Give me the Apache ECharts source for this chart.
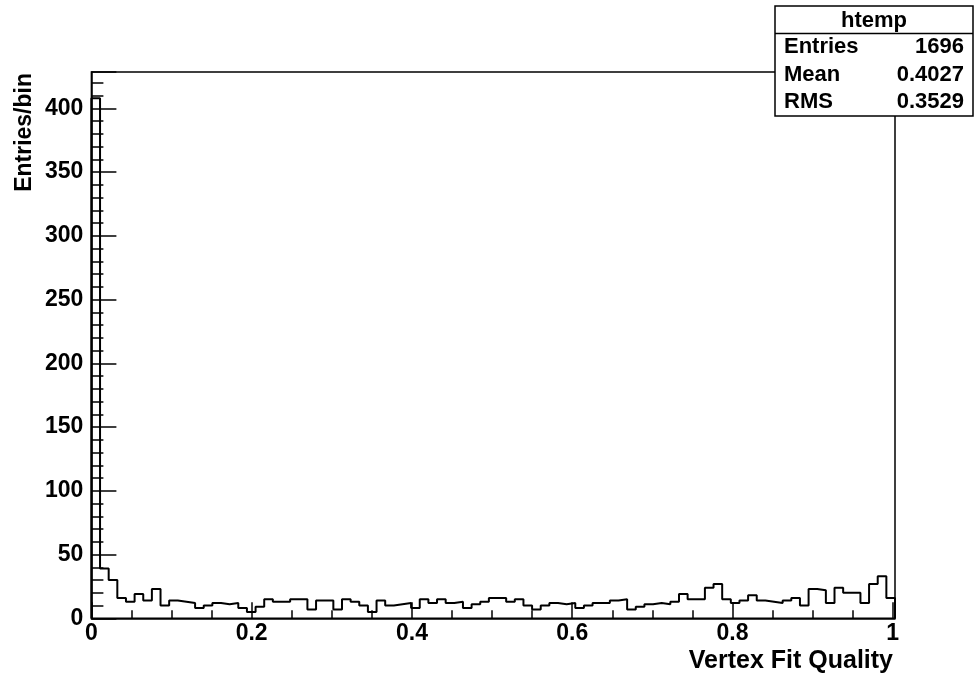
<!DOCTYPE html>
<html>
<head>
<meta charset="utf-8">
<title>htemp</title>
<script src="https://cdn.jsdelivr.net/npm/echarts@6/dist/echarts.min.js"></script>
<style>
html,body{margin:0;padding:0;background:#fff}
#chart{width:974px;height:678px}
</style>
</head>
<body>
<div id="chart"></div>
<script>
// htemp bin contents (93 equal bins from xMin to xMax)
const counts = [
  408, 39, 30, 16, 13, 19, 14, 23, 10, 14,
  13, 12, 8, 10, 12, 11, 12, 8, 5, 9,
  15, 13, 13, 15, 15, 7, 14, 14, 7, 15,
  13, 10, 5, 14, 10, 11, 12, 8, 15, 12,
  15, 12, 13, 8, 11, 13, 16, 16, 13, 15,
  10, 7, 10, 12, 11, 12, 8, 10, 12, 12,
  14, 15, 7, 9, 11, 12, 11, 13, 19, 15,
  15, 24, 27, 15, 12, 14, 18, 14, 13, 12,
  14, 16, 10, 23, 22, 12, 24, 20, 20, 12,
  27, 33, 16
];
const xMin = 0;
const xMax = 1.0028;
const yMax = 428.5;
const xTickLabels = [0, 0.2, 0.4, 0.6, 0.8, 1];
const yTickLabels = [0, 50, 100, 150, 200, 250, 300, 350, 400];

const histName = 'htemp';
const statNames = ['Entries', 'Mean', 'RMS'];
const statValues = ['1696', '0.4027', '0.3529'];
const xTitle = 'Vertex Fit Quality';
const yTitle = 'Entries/bin';

const FONT = '"Liberation Sans", Arial, Helvetica, sans-serif';

// outline of the histogram as (low edge, content) points, drawn with step: 'end'
const binWidth = (xMax - xMin) / counts.length;
const outline = [[xMin, 0]];
counts.forEach((c, i) => outline.push([xMin + i * binWidth, c]));
outline.push([xMax, counts[counts.length - 1]]);
outline.push([xMax, 0]);

const onTick = (list, v) => list.some(t => Math.abs(t - v) < 1e-9);

// stats box, top right
const box = { x: 775, y: 6, w: 198, h: 110 };
const rowH = box.h / 4;
const statFont = 'bold 22px ' + FONT;
const statsGraphics = [
  { type: 'rect', shape: { x: box.x, y: box.y, width: box.w, height: box.h },
    style: { fill: '#fff', stroke: '#000', lineWidth: 1.5 }, z: 10 },
  { type: 'line', shape: { x1: box.x, y1: box.y + rowH, x2: box.x + box.w, y2: box.y + rowH },
    style: { stroke: '#000', lineWidth: 1.5 }, z: 11 },
  { type: 'text', x: box.x + box.w / 2, y: box.y + rowH / 2 + 1, z: 11,
    style: { text: histName, font: statFont, fill: '#000',
      textAlign: 'center', textVerticalAlign: 'middle' } }
];
statNames.forEach((name, i) => {
  const cy = box.y + rowH * (i + 1.5);
  statsGraphics.push({ type: 'text', x: box.x + 9, y: cy, z: 11,
    style: { text: name, font: statFont, fill: '#000',
      textAlign: 'left', textVerticalAlign: 'middle' } });
  statsGraphics.push({ type: 'text', x: box.x + box.w - 9, y: cy, z: 11,
    style: { text: statValues[i], font: statFont, fill: '#000',
      textAlign: 'right', textVerticalAlign: 'middle' } });
});

const chart = echarts.init(document.getElementById('chart'), null, { renderer: 'canvas' });

chart.setOption({
  backgroundColor: '#fff',
  animation: false,
  grid: {
    left: 91.4, right: 79, top: 72, bottom: 59.7,
    show: true, borderColor: '#000', borderWidth: 1.5, backgroundColor: 'transparent'
  },
  xAxis: {
    type: 'value', min: xMin, max: xMax, interval: 0.2,
    axisLine: { show: true, onZero: false, lineStyle: { color: '#000', width: 1.5 } },
    axisTick: { show: true, inside: true, length: 16, lineStyle: { color: '#000', width: 1.5 } },
    minorTick: { show: true, splitNumber: 4, length: 8, lineStyle: { color: '#000', width: 1.5 } },
    splitLine: { show: false },
    axisLabel: {
      margin: 4, color: '#000', fontFamily: FONT, fontWeight: 'bold', fontSize: 23,
      showMaxLabel: false,
      formatter: v => onTick(xTickLabels, v) ? String(+v.toFixed(1)) : ''
    }
  },
  yAxis: {
    type: 'value', min: 0, max: yMax, interval: 50,
    axisLine: { show: true, lineStyle: { color: '#000', width: 1.5 } },
    axisTick: { show: true, inside: true, length: 25, lineStyle: { color: '#000', width: 1.5 } },
    minorTick: { show: true, splitNumber: 5, length: 12, lineStyle: { color: '#000', width: 1.5 } },
    splitLine: { show: false },
    axisLabel: {
      margin: 8, color: '#000', fontFamily: FONT, fontWeight: 'bold', fontSize: 23,
      showMaxLabel: false,
      formatter: v => onTick(yTickLabels, v) ? String(v) : ''
    }
  },
  series: [{
    name: histName,
    type: 'line',
    step: 'end',
    data: outline,
    symbol: 'none',
    clip: true,
    lineStyle: { color: '#000', width: 2 }
  }],
  graphic: [
    { type: 'text', x: 25, y: 73, rotation: Math.PI / 2,
      style: { text: yTitle, font: 'bold 23px ' + FONT, fill: '#000',
        textAlign: 'right', textVerticalAlign: 'middle' } },
    { type: 'text', x: 893, y: 661,
      style: { text: xTitle, font: 'bold 25px ' + FONT, fill: '#000',
        textAlign: 'right', textVerticalAlign: 'middle' } }
  ].concat(statsGraphics)
});
</script>
</body>
</html>
